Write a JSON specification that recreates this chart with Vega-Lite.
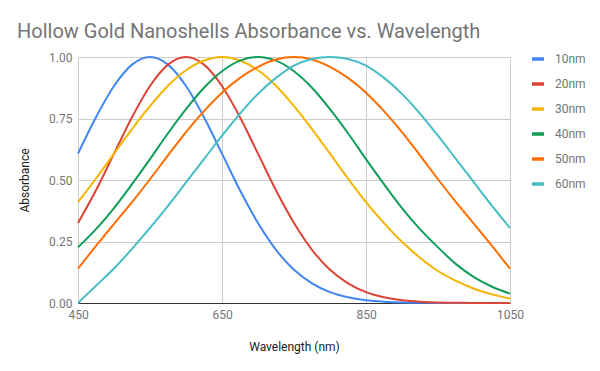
{
  "$schema": "https://vega.github.io/schema/vega-lite/v6.json",
  "width": 432,
  "height": 246,
  "autosize": {"type": "none"},
  "padding": {"left": 78, "top": 57, "right": 90, "bottom": 68},
  "background": "white",
  "title": {
    "text": "Hollow Gold Nanoshells Absorbance vs. Wavelength",
    "anchor": "start",
    "frame": "group",
    "dx": -61,
    "dy": 24,
    "offset": 17,
    "baseline": "alphabetic",
    "font": "Roboto",
    "fontSize": 20,
    "fontWeight": "normal",
    "color": "#757575"
  },
  "data": {
    "values": [
      {"wavelength": 450, "10nm": 0.607, "20nm": 0.325, "30nm": 0.41, "40nm": 0.226, "50nm": 0.14, "60nm": 0.0},
      {"wavelength": 475, "10nm": 0.755, "20nm": 0.458, "30nm": 0.506, "40nm": 0.3, "50nm": 0.232, "60nm": 0.07},
      {"wavelength": 500, "10nm": 0.882, "20nm": 0.607, "30nm": 0.607, "40nm": 0.386, "50nm": 0.322, "60nm": 0.14},
      {"wavelength": 525, "10nm": 0.969, "20nm": 0.755, "30nm": 0.707, "40nm": 0.483, "50nm": 0.41, "60nm": 0.22},
      {"wavelength": 550, "10nm": 1.0, "20nm": 0.882, "30nm": 0.8, "40nm": 0.585, "50nm": 0.503, "60nm": 0.305},
      {"wavelength": 575, "10nm": 0.969, "20nm": 0.969, "30nm": 0.883, "40nm": 0.69, "50nm": 0.6, "60nm": 0.395},
      {"wavelength": 600, "10nm": 0.882, "20nm": 1.0, "30nm": 0.946, "40nm": 0.788, "50nm": 0.695, "60nm": 0.49},
      {"wavelength": 625, "10nm": 0.755, "20nm": 0.969, "30nm": 0.986, "40nm": 0.875, "50nm": 0.78, "60nm": 0.585},
      {"wavelength": 650, "10nm": 0.607, "20nm": 0.882, "30nm": 1.0, "40nm": 0.942, "50nm": 0.855, "60nm": 0.68},
      {"wavelength": 675, "10nm": 0.458, "20nm": 0.755, "30nm": 0.986, "40nm": 0.985, "50nm": 0.915, "60nm": 0.77},
      {"wavelength": 700, "10nm": 0.325, "20nm": 0.607, "30nm": 0.946, "40nm": 1.0, "50nm": 0.96, "60nm": 0.85},
      {"wavelength": 725, "10nm": 0.216, "20nm": 0.458, "30nm": 0.883, "40nm": 0.985, "50nm": 0.99, "60nm": 0.915},
      {"wavelength": 750, "10nm": 0.135, "20nm": 0.325, "30nm": 0.8, "40nm": 0.942, "50nm": 1.0, "60nm": 0.965},
      {"wavelength": 775, "10nm": 0.08, "20nm": 0.216, "30nm": 0.707, "40nm": 0.875, "50nm": 0.99, "60nm": 0.992},
      {"wavelength": 800, "10nm": 0.044, "20nm": 0.135, "30nm": 0.607, "40nm": 0.788, "50nm": 0.96, "60nm": 1.0},
      {"wavelength": 825, "10nm": 0.023, "20nm": 0.08, "30nm": 0.506, "40nm": 0.69, "50nm": 0.915, "60nm": 0.992},
      {"wavelength": 850, "10nm": 0.011, "20nm": 0.044, "30nm": 0.41, "40nm": 0.585, "50nm": 0.855, "60nm": 0.965},
      {"wavelength": 875, "10nm": 0.005, "20nm": 0.023, "30nm": 0.325, "40nm": 0.483, "50nm": 0.78, "60nm": 0.915},
      {"wavelength": 900, "10nm": 0.002, "20nm": 0.011, "30nm": 0.249, "40nm": 0.386, "50nm": 0.695, "60nm": 0.85},
      {"wavelength": 925, "10nm": 0.001, "20nm": 0.005, "30nm": 0.184, "40nm": 0.3, "50nm": 0.6, "60nm": 0.77},
      {"wavelength": 950, "10nm": 0.0, "20nm": 0.002, "30nm": 0.13, "40nm": 0.226, "50nm": 0.503, "60nm": 0.68},
      {"wavelength": 975, "10nm": 0.0, "20nm": 0.001, "30nm": 0.09, "40nm": 0.158, "50nm": 0.41, "60nm": 0.585},
      {"wavelength": 1000, "10nm": 0.0, "20nm": 0.0, "30nm": 0.058, "40nm": 0.105, "50nm": 0.322, "60nm": 0.49},
      {"wavelength": 1025, "10nm": 0.0, "20nm": 0.0, "30nm": 0.035, "40nm": 0.066, "50nm": 0.232, "60nm": 0.395},
      {"wavelength": 1050, "10nm": 0.0, "20nm": 0.0, "30nm": 0.018, "40nm": 0.038, "50nm": 0.14, "60nm": 0.305}
    ]
  },
  "transform": [
    {"fold": ["10nm", "20nm", "30nm", "40nm", "50nm", "60nm"], "as": ["series", "absorbance"]}
  ],
  "mark": {"type": "line", "strokeWidth": 2, "interpolate": "monotone"},
  "encoding": {
    "x": {
      "field": "wavelength",
      "type": "quantitative",
      "scale": {"domain": [450, 1050], "nice": false, "zero": false},
      "axis": {
        "title": "Wavelength (nm)",
        "values": [450, 650, 850, 1050],
        "format": "d",
        "labelFlush": false,
        "domain": true,
        "domainColor": "#333333",
        "domainWidth": 1,
        "labelPadding": 6,
        "titlePadding": 21
      }
    },
    "y": {
      "field": "absorbance",
      "type": "quantitative",
      "scale": {"domain": [0, 1], "nice": false},
      "axis": {
        "title": "Absorbance",
        "values": [0, 0.25, 0.5, 0.75, 1],
        "format": ".2f",
        "labelFlush": false,
        "labelPadding": 6,
        "titlePadding": 17
      }
    },
    "color": {
      "field": "series",
      "type": "nominal",
      "scale": {
        "domain": ["10nm", "20nm", "30nm", "40nm", "50nm", "60nm"],
        "range": ["#4285f4", "#db4437", "#f4b400", "#0f9d58", "#ff6d00", "#46bdc6"]
      },
      "legend": {
        "title": null,
        "orient": "none",
        "legendX": 452,
        "legendY": -6,
        "symbolType": "stroke",
        "symbolSize": 144,
        "symbolStrokeWidth": 3.5,
        "labelOffset": 9,
        "rowPadding": 10,
        "labelFont": "Roboto",
        "labelFontSize": 12,
        "labelColor": "#757575"
      }
    }
  },
  "config": {
    "view": {"stroke": null},
    "font": "Roboto",
    "axis": {
      "labelFont": "Roboto",
      "labelFontSize": 12,
      "labelColor": "#757575",
      "titleFont": "Roboto",
      "titleFontSize": 12,
      "titleFontWeight": "normal",
      "titleColor": "#222222",
      "gridColor": "#cccccc",
      "gridWidth": 1,
      "ticks": false,
      "domain": false
    }
  }
}
